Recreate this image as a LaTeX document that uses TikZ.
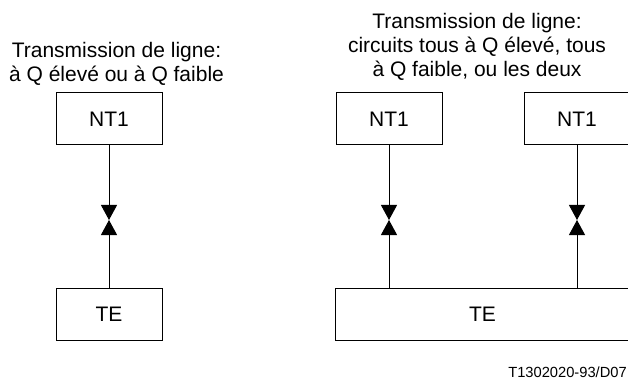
\documentclass[tikz,border=0pt]{standalone}
\usepackage{fontspec}
\setmainfont{Liberation Sans}
\usetikzlibrary{arrows.meta}

\begin{document}
\begin{tikzpicture}[x=1pt,y=-1pt,
  unitbox/.style={draw, line width=1pt, minimum height=52pt, inner sep=0pt,
    font=\fontsize{21}{24}\selectfont},
  titleline/.style={anchor=base, inner sep=0pt, font=\fontsize{21}{24}\selectfont},
  wire/.style={line width=1pt, -{Triangle[width=16pt,length=15pt]}}]
  \useasboundingbox (0,0) rectangle (628,379);

  % left arrangement: one NT1, one TE
  \node[titleline] (tl1) at (116.5,58) {Transmission de ligne:};
  \node[titleline] (tl2) at (116.5,82) {à Q élevé ou à Q faible};
  \node[unitbox, minimum width=106pt] (ntA) at (109,119) {NT1};
  \node[unitbox, minimum width=106pt] (teA) at (109,314.5) {TE};
  \coordinate (mA) at (109,220);
  \draw[wire] (ntA.south) -- (mA);
  \draw[wire] (teA.north) -- (mA);

  % right arrangement: two NT1 sharing one TE
  \node[titleline] (tr1) at (477,29) {Transmission de ligne:};
  \node[titleline] (tr2) at (477,53) {circuits tous à Q élevé, tous};
  \node[titleline] (tr3) at (477,77) {à Q faible, ou les deux};
  \node[unitbox, minimum width=106pt] (ntB) at (389,119) {NT1};
  \node[unitbox, minimum width=106pt] (ntC) at (577,119) {NT1};
  \node[unitbox, minimum width=295pt] (teB) at (482.5,314.5) {TE};
  \coordinate (mB) at (389,220);
  \coordinate (mC) at (577,220);
  \draw[wire] (ntB.south) -- (mB);
  \draw[wire] (teB.north -| mB) -- (mB);
  \draw[wire] (ntC.south) -- (mC);
  \draw[wire] (teB.north -| mC) -- (mC);

  % figure reference
  \node[anchor=base east, inner sep=0pt, font=\fontsize{14.7}{16}\selectfont]
    (ref) at (627,377) {T1302020-93/D07};
\end{tikzpicture}
\end{document}
